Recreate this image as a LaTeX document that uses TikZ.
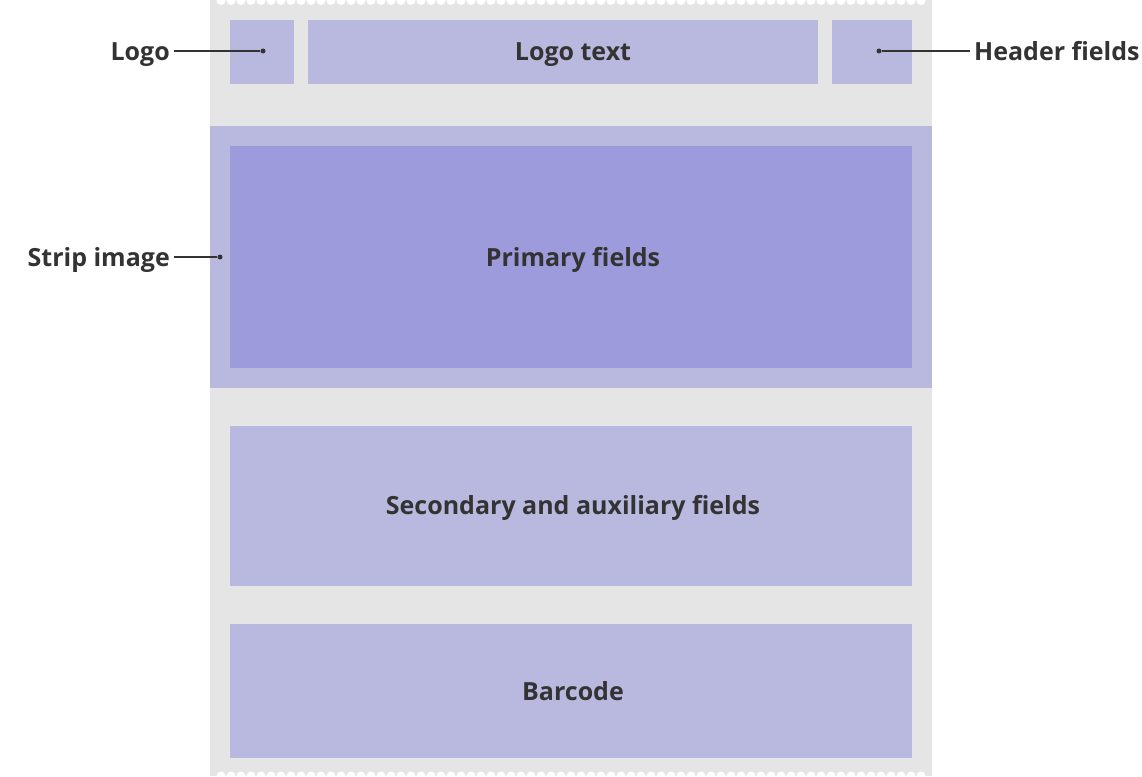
\documentclass[tikz,border=0pt]{standalone}
\usepackage{fontspec}
\setmainfont{Open Sans}
\usetikzlibrary{calc}
\definecolor{passgray}{HTML}{E5E5E5}
\definecolor{fieldc}{HTML}{B9B9E0}
\definecolor{primaryc}{HTML}{9D9BDB}
\definecolor{textc}{HTML}{333333}

\begin{document}
\begin{tikzpicture}
[x=1pt,y=-1pt,
 box/.style={fill=fieldc,draw=none,inner sep=0pt},
 boxtext/.style={text=textc,inner sep=0pt,anchor=base,font=\bfseries\fontsize{25}{30}\selectfont},
 point/.style={circle,fill=textc,inner sep=0pt,minimum size=5pt},
 callout/.style={text=textc,inner xsep=4pt,inner ysep=0pt,font=\bfseries\fontsize{25}{30}\selectfont},
 lead/.style={draw=textc,line width=1.8pt},]

\useasboundingbox (0,0) rectangle (1142,776);

%Pass background with perforated edges
\fill[passgray] (210,0) rectangle (932,776);
\foreach \i in {0,...,70}{
  \fill[white] (221+10*\i,0.5) circle (4.5);
  \fill[white] (221+10*\i,776) circle (4.5);
}

%Header row
\node (logo) at (262,52)[box,minimum width=64,minimum height=64] {};
\node (logobox) at (563,52)[box,minimum width=510,minimum height=64] {};
\node (header) at (872,52)[box,minimum width=80,minimum height=64] {};

%Strip image and fields
\node (strip) at (571,257)[box,minimum width=722,minimum height=262] {};
\node (primary) at (571,257)[box,fill=primaryc,minimum width=682,minimum height=222] {};
\node (secondary) at (571,506)[box,minimum width=682,minimum height=160] {};
\node (barcode) at (571,691)[box,minimum width=682,minimum height=134] {};

%Texts
\node (logotext) at (573,60)[boxtext] {Logo text};
\node (primarytext) at (573,266)[boxtext] {Primary fields};
\node (secondarytext) at (573,514)[boxtext] {Secondary and auxiliary fields};
\node (barcodetext) at (573,700)[boxtext] {Barcode};

%Callout points
\node (logopt) at (263,51)[point] {};
\node (headerpt) at (879,51)[point] {};
\node (strippt) at (220,257)[point] {};

%Callout labels
\node (logolabel) at (174,60)[callout,anchor=base east] {Logo};
\node (headerlabel) at (970,60)[callout,anchor=base west] {Header fields};
\node (striplabel) at (174,266)[callout,anchor=base east] {Strip image};

\draw[lead] (logopt) -- (logopt -| logolabel.east);
\draw[lead] (headerpt) -- (headerpt -| headerlabel.west);
\draw[lead] (strippt) -- (strippt -| striplabel.east);

\end{tikzpicture}
\end{document}
